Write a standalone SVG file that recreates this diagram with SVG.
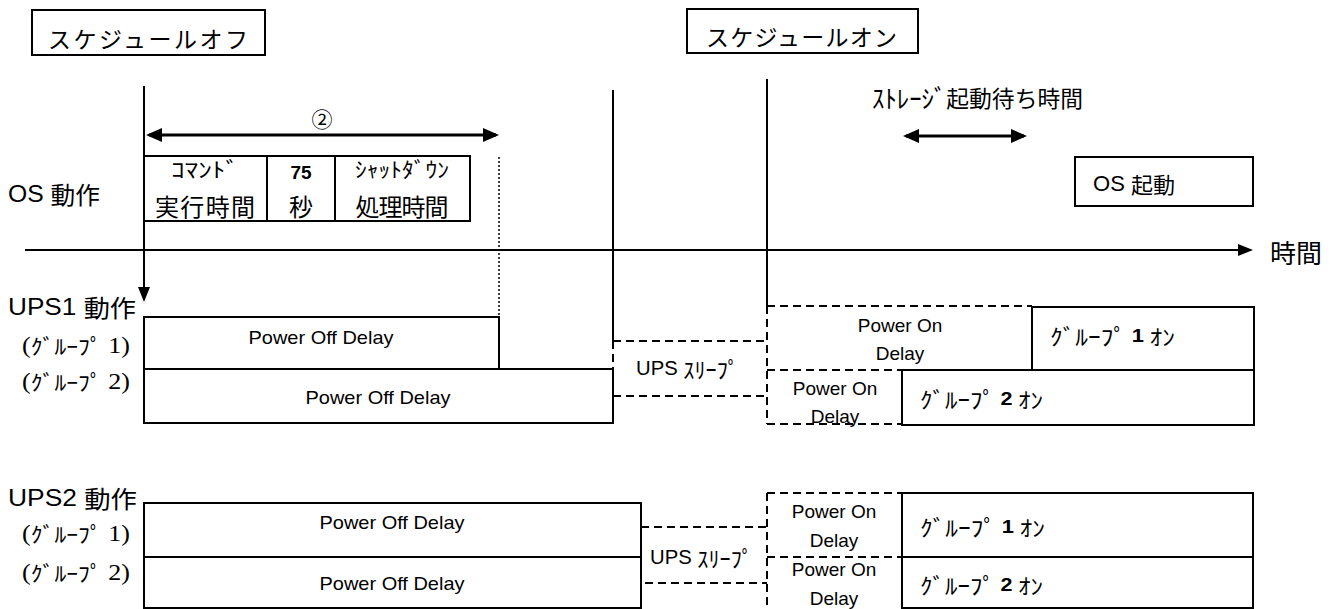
<svg xmlns="http://www.w3.org/2000/svg" width="1339" height="609" viewBox="0 0 1339 609">
  <style>
    .box { fill: #fff; stroke: #000; stroke-width: 2; }
    .solid { fill: none; stroke: #000; stroke-width: 2; }
    .dash { fill: none; stroke: #000; stroke-width: 2; stroke-dasharray: 8 5; }
    .dot { fill: none; stroke: #000; stroke-width: 1.5; stroke-dasharray: 2 2; }
    .thick { fill: none; stroke: #000; stroke-width: 3; }
    text { fill: #000; dominant-baseline: central; }
    .jp { font-family: "Noto Sans CJK JP", sans-serif; }
    .lat { font-family: "Liberation Sans", "Noto Sans CJK JP", sans-serif; }
    .ser { font-family: "Liberation Serif", "Noto Sans CJK JP", serif; }
    .mid { text-anchor: middle; }
    .num { font-family: "Liberation Sans", sans-serif; font-weight: bold; font-size: 19px; }
  </style>
  <defs>
    <marker id="head" markerUnits="userSpaceOnUse" markerWidth="16" markerHeight="14" refX="13" refY="7" orient="auto-start-reverse" viewBox="0 0 16 14">
      <path d="M0,0 L16,7 L0,14 z" fill="#000"/>
    </marker>
    <marker id="axisHead" markerUnits="userSpaceOnUse" markerWidth="15" markerHeight="12" refX="13" refY="6" orient="auto" viewBox="0 0 15 12">
      <path d="M0,0 L15,6 L0,12 z" fill="#000"/>
    </marker>
  </defs>

  <rect width="1339" height="609" fill="#fff"/>

  <!-- schedule headers -->
  <g id="schedule-off">
    <rect class="box" x="32" y="10" width="233" height="45"/>
    <text class="jp" x="48" y="38" font-size="23" textLength="200" lengthAdjust="spacing">スケジュールオフ</text>
  </g>
  <g id="schedule-on">
    <rect class="box" x="687" y="9" width="231" height="44"/>
    <text class="jp" x="706" y="36" font-size="23" textLength="191" lengthAdjust="spacing">スケジュールオン</text>
  </g>

  <!-- row labels -->
  <g id="row-labels">
    <text class="lat" x="8" y="193" font-size="24" textLength="92" lengthAdjust="spacingAndGlyphs">OS <tspan class="jp">動作</tspan></text>
    <text class="lat" x="8" y="306" font-size="24" textLength="128" lengthAdjust="spacingAndGlyphs">UPS1 <tspan class="jp">動作</tspan></text>
    <text class="ser" x="22" y="345" font-size="23" textLength="108" lengthAdjust="spacingAndGlyphs">(<tspan class="jp" font-size="21">ｸﾞﾙｰﾌﾟ</tspan> 1)</text>
    <text class="ser" x="22" y="381" font-size="23" textLength="108" lengthAdjust="spacingAndGlyphs">(<tspan class="jp" font-size="21">ｸﾞﾙｰﾌﾟ</tspan> 2)</text>
    <text class="lat" x="8" y="497" font-size="24" textLength="129" lengthAdjust="spacingAndGlyphs">UPS2 <tspan class="jp">動作</tspan></text>
    <text class="ser" x="22" y="533" font-size="23" textLength="108" lengthAdjust="spacingAndGlyphs">(<tspan class="jp" font-size="21">ｸﾞﾙｰﾌﾟ</tspan> 1)</text>
    <text class="ser" x="22" y="572" font-size="23" textLength="108" lengthAdjust="spacingAndGlyphs">(<tspan class="jp" font-size="21">ｸﾞﾙｰﾌﾟ</tspan> 2)</text>
  </g>

  <!-- OS shutdown sequence -->
  <g id="os-command">
    <rect class="box" x="144" y="156" width="123" height="65"/>
    <text class="jp mid" x="205" y="168" font-size="21" textLength="68" lengthAdjust="spacingAndGlyphs">ｺﾏﾝﾄﾞ</text>
    <text class="jp mid" x="205" y="205" font-size="24" textLength="100" lengthAdjust="spacing">実行時間</text>
  </g>
  <g id="os-wait">
    <rect class="box" x="267" y="156" width="68" height="65"/>
    <text class="lat mid" x="301" y="172" font-size="19" font-weight="bold">75</text>
    <text class="jp mid" x="301" y="205" font-size="24">秒</text>
  </g>
  <g id="os-shutdown">
    <rect class="box" x="335" y="156" width="135" height="65"/>
    <text class="jp mid" x="402" y="168" font-size="21" textLength="94" lengthAdjust="spacingAndGlyphs">ｼｬｯﾄﾀﾞｳﾝ</text>
    <text class="jp mid" x="402" y="205" font-size="24" textLength="93" lengthAdjust="spacing">処理時間</text>
  </g>
  <g id="os-boot">
    <rect class="box" x="1075" y="157" width="178" height="49"/>
    <text class="lat" x="1093" y="183" font-size="22" textLength="82" lengthAdjust="spacingAndGlyphs">OS <tspan class="jp">起動</tspan></text>
  </g>

  <!-- interval labels -->
  <g id="interval-2">
    <text class="jp mid" x="322" y="118" font-size="21">②</text>
  </g>
  <g id="storage-wait">
    <text class="jp" x="872" y="97" font-size="23" textLength="211" lengthAdjust="spacingAndGlyphs"><tspan font-size="25">ｽﾄﾚｰｼﾞ</tspan>起動待ち時間</text>
  </g>
  <g id="time-label">
    <text class="jp" x="1270" y="251" font-size="26">時間</text>
  </g>

  <!-- UPS1 -->
  <g id="ups1-off-g1">
    <rect class="box" x="144" y="317" width="355" height="52"/>
    <text class="lat mid" x="321" y="337" font-size="19" textLength="145" lengthAdjust="spacingAndGlyphs">Power Off Delay</text>
  </g>
  <g id="ups1-off-g2">
    <rect class="box" x="144" y="369" width="469" height="54"/>
    <text class="lat mid" x="378" y="397" font-size="19" textLength="145" lengthAdjust="spacingAndGlyphs">Power Off Delay</text>
  </g>
  <g id="ups1-sleep">
    <path class="dash" d="M613,341 H767 M613,396 H767 M613,341 V369"/>
    <text class="lat" x="636" y="368" font-size="20" textLength="103" lengthAdjust="spacingAndGlyphs">UPS <tspan class="jp" font-size="22">ｽﾘｰﾌﾟ</tspan></text>
  </g>
  <g id="ups1-on-delay-g1">
    <path class="dash" d="M767,306 H1032"/>
    <text class="lat mid" x="900" y="325" font-size="19">Power On</text>
    <text class="lat mid" x="900" y="353" font-size="19">Delay</text>
  </g>
  <g id="ups1-on-delay-g2">
    <path class="dash" d="M767,370 H902 M767,424 H902"/>
    <text class="lat mid" x="835" y="388" font-size="19">Power On</text>
    <text class="lat mid" x="835" y="416" font-size="19">Delay</text>
  </g>
  <g id="ups1-on-g1">
    <rect class="box" x="1032" y="307" width="222" height="63"/>
    <text class="jp" x="1050" y="335" font-size="22" textLength="125" lengthAdjust="spacingAndGlyphs">ｸﾞﾙｰﾌﾟ <tspan class="num">1</tspan> ｵﾝ</text>
  </g>
  <g id="ups1-on-g2">
    <rect class="box" x="902" y="370" width="352" height="55"/>
    <text class="jp" x="920" y="398" font-size="22" textLength="123" lengthAdjust="spacingAndGlyphs">ｸﾞﾙｰﾌﾟ <tspan class="num">2</tspan> ｵﾝ</text>
  </g>

  <!-- UPS2 -->
  <g id="ups2-off-g1">
    <rect class="box" x="144" y="503" width="497" height="54"/>
    <text class="lat mid" x="392" y="522" font-size="19" textLength="145" lengthAdjust="spacingAndGlyphs">Power Off Delay</text>
  </g>
  <g id="ups2-off-g2">
    <rect class="box" x="144" y="557" width="497" height="51"/>
    <text class="lat mid" x="392" y="583" font-size="19" textLength="145" lengthAdjust="spacingAndGlyphs">Power Off Delay</text>
  </g>
  <g id="ups2-sleep">
    <path class="dash" d="M641,527 H767 M645,583 H767"/>
    <text class="lat" x="650" y="557" font-size="20" textLength="103" lengthAdjust="spacingAndGlyphs">UPS <tspan class="jp" font-size="22">ｽﾘｰﾌﾟ</tspan></text>
  </g>
  <g id="ups2-on-delay">
    <path class="dash" d="M767,493 H902 M767,557 H902 M767,493 V609"/>
    <text class="lat mid" x="834" y="511" font-size="19">Power On</text>
    <text class="lat mid" x="834" y="540" font-size="19">Delay</text>
    <text class="lat mid" x="834" y="569" font-size="19">Power On</text>
    <text class="lat mid" x="834" y="598" font-size="19">Delay</text>
  </g>
  <g id="ups2-on-g1">
    <rect class="box" x="902" y="493" width="351" height="64"/>
    <text class="jp" x="920" y="526" font-size="22" textLength="125" lengthAdjust="spacingAndGlyphs">ｸﾞﾙｰﾌﾟ <tspan class="num">1</tspan> ｵﾝ</text>
  </g>
  <g id="ups2-on-g2">
    <rect class="box" x="902" y="557" width="351" height="51"/>
    <text class="jp" x="920" y="584" font-size="22" textLength="123" lengthAdjust="spacingAndGlyphs">ｸﾞﾙｰﾌﾟ <tspan class="num">2</tspan> ｵﾝ</text>
  </g>

  <!-- connectors: time axis, event markers and interval arrows -->
  <g id="connectors">
    <path class="solid" d="M25,250 H1251" stroke-width="2.5" marker-end="url(#axisHead)"/>
    <path class="solid" d="M144,86 V300" marker-end="url(#axisHead)"/>
    <path class="solid" d="M613,90 V341"/>
    <path class="solid" d="M767,79 V306"/>
    <path class="dash" d="M767,306 V424"/>
    <path class="dot" d="M499,157 V317"/>
    <path class="thick" d="M149,135 H496" marker-start="url(#head)" marker-end="url(#head)"/>
    <path class="thick" d="M906,136 H1024" marker-start="url(#head)" marker-end="url(#head)"/>
  </g>
</svg>
